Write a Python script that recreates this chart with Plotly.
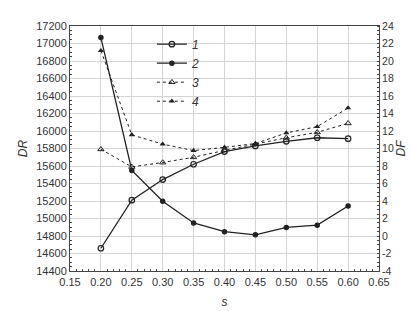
import plotly.graph_objects as go

s = [0.20, 0.25, 0.30, 0.35, 0.40, 0.45, 0.50, 0.55, 0.60]
dr1 = [14660, 15210, 15445, 15620, 15765, 15830, 15882, 15923, 15912]
dr3 = [15791, 15590, 15640, 15700, 15778, 15850, 15923, 15985, 16088]
df2 = [22.68, 7.5, 3.98, 1.49, 0.5, 0.14, 0.98, 1.24, 3.43]
df4 = [21.18, 11.56, 10.5, 9.76, 10.13, 10.57, 11.78, 12.5, 14.63]
df_ticks = [-4, -2, 0, 2, 4, 6, 8, 10, 12, 14, 16, 18, 20, 22, 24]
df_labels = ["-4", "-2", "0", "2", "4", "6", "8", "10", "12", "14", "16", "18", "20", "22", "24"]

c = "#222222"
fam = "Liberation Sans, Arial, sans-serif"
fig = go.Figure()
fig.add_trace(go.Scatter(x=s, y=dr1, name="<i>1</i>", mode="lines+markers",
    line=dict(color=c, width=1.3), marker=dict(symbol="circle-open", size=5.5, color=c, line=dict(width=1.2, color=c))))
fig.add_trace(go.Scatter(x=s, y=df2, name="<i>2</i>", yaxis="y2", mode="lines+markers",
    line=dict(color=c, width=1.3), marker=dict(symbol="circle", size=5.5, color=c)))
fig.add_trace(go.Scatter(x=s, y=dr3, name="<i>3</i>", mode="lines+markers",
    line=dict(color=c, width=1, dash="dot"), marker=dict(symbol="triangle-up-open", size=5.5, color=c, line=dict(width=1, color=c))))
fig.add_trace(go.Scatter(x=s, y=df4, name="<i>4</i>", yaxis="y2", mode="lines+markers",
    line=dict(color=c, width=1, dash="dot"), marker=dict(symbol="triangle-up", size=5.5, color=c)))

tickf = dict(family=fam, size=11, color="#333333")
titf = dict(family=fam, size=12, color="#333333")
grid = "#d4d4d4"
fig.update_layout(
    width=414, height=311,
    margin=dict(l=62, r=43, t=12, b=44),
    paper_bgcolor="white", plot_bgcolor="white",
    showlegend=True,
    legend=dict(x=0.265, y=0.985, xanchor="left", yanchor="top",
                font=dict(family=fam, size=12, color="#333333"),
                bgcolor="rgba(0,0,0,0)", itemwidth=30, tracegroupgap=0),
    xaxis=dict(range=[0.15, 0.65], dtick=0.05, tickformat=".2f", tickfont=tickf,
               showgrid=True, gridcolor=grid, gridwidth=1,
               showline=True, linecolor="#444444", linewidth=1, mirror=True,
               ticks="", zeroline=False, ticklabelstandoff=1,
               minor=dict(ticks="inside", ticklen=2, dtick=0.01, tickcolor="#444444", showgrid=False),
               title=dict(text="<i>s</i>", font=titf, standoff=10)),
    yaxis=dict(range=[14400, 17200], dtick=200, tickformat="d", tickfont=tickf,
               showgrid=True, gridcolor=grid, gridwidth=1,
               showline=True, linecolor="#444444", linewidth=1, mirror=True,
               ticks="", zeroline=False,
               minor=dict(ticks="inside", ticklen=2, dtick=50, tickcolor="#444444", showgrid=False),
               title=dict(text="<i>DR</i>", font=titf, standoff=6)),
    yaxis2=dict(range=[-4, 24], tickmode="array", tickvals=df_ticks, ticktext=df_labels,
                tickfont=dict(family=fam, size=10.5, color="#333333"), overlaying="y", side="right",
                showgrid=False, showline=True, linecolor="#444444", linewidth=1,
                ticks="", zeroline=False,
                minor=dict(ticks="inside", ticklen=2, dtick=0.5, tickcolor="#444444"),
                title=dict(text="<i>DF</i>", font=titf, standoff=1)),
)
fig.write_html("out.html")
